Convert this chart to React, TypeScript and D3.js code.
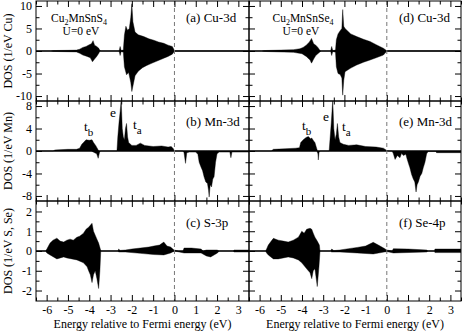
import * as d3 from "d3";
import React, { useEffect, useRef } from "react";

type Pt = [number, number];

// [energy (eV), DOS] pairs; spin up positive, spin down negative
// (a) Cu-3d, Cu2MnSnS4
const cuUpS: Pt[] = [[-6.5, 0], [-5.8, 0], [-5.7, 0.1], [-5.0, 0.15], [-4.6, 0.2], [-4.45, 0.4], [-4.3, 0.8], [-4.15, 1.0], [-4.0, 1.4], [-3.9, 1.6], [-3.82, 2.3], [-3.75, 1.3], [-3.65, 1.0], [-3.55, 0.6], [-3.5, 0.1], [-3.45, 0], [-2.6, 0], [-2.55, 1.0], [-2.5, 0.1], [-2.4, 0.2], [-2.35, 3.5], [-2.28, 5.5], [-2.2, 4.6], [-2.12, 5.0], [-2.05, 7.5], [-2.0, 10.5], [-1.95, 6.5], [-1.85, 4.2], [-1.7, 3.6], [-1.44, 3.2], [-1.2, 2.7], [-0.97, 2.4], [-0.75, 2.0], [-0.5, 1.7], [-0.3, 1.3], [-0.1, 1.0], [-0.03, 0.4], [0, 0.05], [3.5, 0.05]];
const cuDnS: Pt[] = [[-6.5, 0], [-5.8, 0], [-5.7, -0.1], [-4.6, -0.2], [-4.45, -0.5], [-4.3, -0.9], [-4.1, -1.2], [-3.95, -1.5], [-3.85, -2.4], [-3.75, -1.8], [-3.65, -1.2], [-3.55, -0.5], [-3.5, 0], [-2.6, 0], [-2.55, -1.0], [-2.5, -0.1], [-2.4, -0.3], [-2.35, -3.5], [-2.25, -5.3], [-2.15, -4.8], [-2.05, -7.0], [-2.0, -9.0], [-1.95, -7.8], [-1.85, -5.5], [-1.7, -4.5], [-1.5, -3.7], [-1.3, -3.2], [-1.1, -2.8], [-0.9, -2.4], [-0.7, -2.0], [-0.5, -1.6], [-0.3, -1.2], [-0.1, -0.7], [0, -0.05], [3.5, -0.05]];
// (d) Cu-3d, Cu2MnSnSe4
const cuUpSe: Pt[] = [[-6.5, 0], [-5.9, 0], [-5.8, 0.1], [-5.0, 0.2], [-4.4, 0.3], [-4.1, 0.5], [-3.95, 0.8], [-3.8, 1.3], [-3.65, 2.0], [-3.55, 2.8], [-3.45, 1.6], [-3.35, 1.3], [-3.25, 0.8], [-3.15, 0.1], [-3.1, 0], [-2.65, 0], [-2.6, 1.0], [-2.55, 0.1], [-2.42, 0.2], [-2.38, 2.5], [-2.3, 3.8], [-2.2, 4.5], [-2.12, 5.0], [-2.08, 9.2], [-2.03, 5.5], [-1.97, 5.0], [-1.7, 3.8], [-1.42, 3.2], [-1.1, 2.6], [-0.79, 2.1], [-0.5, 1.4], [-0.16, 0.6], [0, 0.05], [3.5, 0.05]];
const cuDnSe: Pt[] = [[-6.5, 0], [-5.9, 0], [-5.8, -0.1], [-4.4, -0.3], [-4.0, -0.6], [-3.8, -1.2], [-3.62, -2.0], [-3.55, -2.7], [-3.45, -1.8], [-3.35, -1.0], [-3.2, -0.4], [-3.1, 0], [-2.65, 0], [-2.6, -1.0], [-2.55, -0.1], [-2.42, -0.3], [-2.38, -3.5], [-2.3, -5.0], [-2.2, -5.2], [-2.12, -6.0], [-2.08, -9.8], [-2.03, -6.5], [-1.97, -4.6], [-1.7, -3.8], [-1.42, -3.1], [-1.1, -2.5], [-0.79, -2.0], [-0.5, -1.5], [-0.16, -0.9], [0, -0.05], [3.5, -0.05]];

// (b) Mn-3d, Cu2MnSnS4
const mnUpS: Pt[] = [[-6.5, 0], [-5.7, 0], [-5.6, 0.2], [-5.0, 0.3], [-4.6, 0.3], [-4.45, 0.5], [-4.35, 1.2], [-4.27, 1.5], [-4.15, 2.0], [-4.0, 1.9], [-3.87, 2.0], [-3.8, 1.5], [-3.7, 1.0], [-3.64, 0.6], [-3.58, 0.2], [-3.55, 0], [-2.7, 0], [-2.66, 2.5], [-2.6, 5.2], [-2.55, 7.0], [-2.5, 9.1], [-2.45, 4.0], [-2.4, 2.5], [-2.35, 2.0], [-2.3, 4.0], [-2.25, 4.9], [-2.2, 2.5], [-2.15, 1.5], [-2.0, 1.0], [-1.8, 1.0], [-1.6, 1.4], [-1.4, 1.0], [-1.0, 0.8], [-0.6, 0.9], [-0.3, 0.7], [-0.15, 0.8], [-0.05, 0.4], [0, 0], [3.5, 0]];
const mnDnS: Pt[] = [[-6.5, 0], [-3.9, 0], [-3.75, -0.3], [-3.65, -0.5], [-3.58, -1.3], [-3.52, -0.3], [-3.48, 0], [0.4, 0], [0.45, -0.3], [0.52, -2.2], [0.58, -0.3], [0.7, -0.2], [1.0, -0.2], [1.1, -0.6], [1.16, -2.0], [1.24, -2.8], [1.32, -3.5], [1.39, -4.6], [1.47, -5.5], [1.55, -5.8], [1.6, -7.0], [1.63, -8.2], [1.68, -6.0], [1.74, -6.4], [1.8, -5.0], [1.86, -4.6], [1.93, -2.0], [2.0, -0.5], [2.1, -0.2], [2.6, -0.2], [2.65, -1.2], [2.7, -0.2], [3.5, -0.2]];
// (e) Mn-3d, Cu2MnSnSe4
const mnUpSe: Pt[] = [[-6.5, 0], [-5.45, 0], [-5.35, 0.3], [-4.8, 0.4], [-4.3, 0.5], [-4.12, 0.6], [-4.06, 1.5], [-3.94, 2.0], [-3.81, 2.4], [-3.7, 2.6], [-3.6, 2.2], [-3.54, 2.3], [-3.45, 1.8], [-3.39, 1.5], [-3.31, 0.5], [-3.27, 0], [-2.72, 0], [-2.68, 2.0], [-2.62, 5.0], [-2.55, 9.1], [-2.5, 4.0], [-2.44, 2.0], [-2.38, 3.0], [-2.33, 4.9], [-2.27, 2.5], [-2.21, 1.5], [-2.05, 1.2], [-1.8, 1.0], [-1.42, 1.1], [-1.0, 0.8], [-0.5, 0.7], [-0.16, 0.5], [0, 0.1], [0.1, 0], [3.5, 0]];
const mnDnSe: Pt[] = [[-6.5, 0], [-3.3, 0], [-3.25, -0.5], [-3.23, -1.6], [-3.2, -0.3], [-3.15, 0], [0.25, 0], [0.31, -0.5], [0.39, -1.5], [0.5, -0.8], [0.62, -1.2], [0.7, -0.4], [0.78, -0.8], [0.9, -0.6], [0.94, -1.2], [1.02, -2.2], [1.09, -3.0], [1.17, -4.2], [1.25, -5.0], [1.32, -5.5], [1.38, -7.3], [1.43, -6.0], [1.49, -5.5], [1.57, -4.5], [1.65, -4.0], [1.72, -3.0], [1.8, -2.0], [1.88, -0.5], [1.95, -0.1], [2.3, -0.1], [2.35, -0.3], [3.5, -0.3]];

// (c) S-3p
const sUp: Pt[] = [[-6.5, 0], [-6.05, 0], [-5.99, 0.1], [-5.84, 0.4], [-5.7, 0.55], [-5.52, 0.65], [-5.37, 0.5], [-5.2, 0.45], [-5.05, 0.55], [-4.9, 0.6], [-4.75, 0.55], [-4.58, 0.7], [-4.45, 0.75], [-4.27, 0.9], [-4.15, 1.1], [-4.03, 1.2], [-3.95, 1.3], [-3.87, 1.4], [-3.8, 1.0], [-3.72, 0.8], [-3.64, 0.6], [-3.56, 0.4], [-3.48, 0.1], [-3.45, 0], [-2.65, 0], [-2.62, 0.1], [-2.55, 0.03], [-2.3, 0.05], [-2.0, 0.1], [-1.6, 0.15], [-1.2, 0.2], [-0.97, 0.25], [-0.7, 0.3], [-0.5, 0.45], [-0.35, 0.25], [-0.18, 0.2], [-0.02, 0.05], [0.2, 0], [0.4, 0], [0.45, 0.15], [0.8, 0.15], [1.25, 0.1], [1.35, 0], [1.5, 0.05], [2.0, 0.05], [2.1, 0], [2.75, 0], [2.8, 0.05], [3.5, 0.05]];
const sDn: Pt[] = [[-6.5, 0], [-6.05, 0], [-5.99, -0.1], [-5.84, -0.2], [-5.52, -0.4], [-5.2, -0.3], [-5.05, -0.35], [-4.58, -0.45], [-4.27, -0.6], [-4.1, -0.8], [-4.03, -1.0], [-3.95, -1.2], [-3.87, -1.6], [-3.8, -1.2], [-3.72, -1.0], [-3.64, -1.4], [-3.56, -1.9], [-3.5, -1.0], [-3.46, 0], [-2.65, 0], [-2.62, -0.05], [-2.3, -0.05], [-1.6, -0.12], [-0.97, -0.18], [-0.5, -0.2], [-0.18, -0.1], [0, 0], [0.45, -0.1], [1.25, -0.1], [1.5, -0.25], [1.7, -0.3], [2.02, -0.1], [2.1, 0], [2.75, 0], [2.8, -0.05], [3.5, -0.05]];
// (f) Se-4p
const seUp: Pt[] = [[-6.5, 0], [-5.72, 0], [-5.67, 0.1], [-5.59, 0.3], [-5.45, 0.5], [-5.35, 0.64], [-5.12, 0.55], [-4.88, 0.5], [-4.65, 0.45], [-4.41, 0.55], [-4.17, 0.7], [-4.01, 1.0], [-3.9, 0.9], [-3.78, 1.1], [-3.62, 1.15], [-3.54, 1.1], [-3.47, 0.9], [-3.39, 0.7], [-3.28, 0.5], [-3.18, 0.3], [-3.15, 0], [-2.65, 0], [-2.6, 0.1], [-2.5, 0.02], [-2.21, 0.05], [-1.8, 0.12], [-1.4, 0.18], [-1.0, 0.25], [-0.64, 0.44], [-0.4, 0.3], [-0.15, 0.15], [0, 0.05], [0.25, 0], [0.31, 0.12], [1.0, 0.1], [1.88, 0.05], [1.95, 0], [2.25, 0], [2.27, 0.1], [3.5, 0.1]];
const seDn: Pt[] = [[-6.5, 0], [-5.72, 0], [-5.67, -0.1], [-5.59, -0.2], [-5.35, -0.4], [-5.12, -0.4], [-4.65, -0.3], [-4.41, -0.35], [-4.17, -0.45], [-4.01, -0.6], [-3.78, -0.9], [-3.62, -1.1], [-3.54, -1.4], [-3.47, -1.0], [-3.39, -0.9], [-3.28, -1.8], [-3.2, -0.8], [-3.15, 0], [-2.65, 0], [-2.6, -0.05], [-2.21, -0.05], [-1.4, -0.1], [-0.64, -0.15], [0, -0.03], [0.31, -0.1], [1.88, -0.05], [1.95, 0], [2.25, 0], [2.27, -0.08], [3.5, -0.08]];

const xTicks = [-6, -5, -4, -3, -2, -1, 0, 1, 2, 3];
const cuTicks = [-10, -5, 0, 5, 10];
const mnTicks = [-8, -4, 0, 4, 8];
const pTicks = [-2, -1, 0, 1, 2];
const labelsS = ["(a) Cu-3d", "(b) Mn-3d", "(c) S-3p"];
const labelsSe = ["(d) Cu-3d", "(e) Mn-3d", "(f) Se-4p"];
const yTitles = ["DOS (1/eV Cu)", "DOS (1/eV Mn)", "DOS (1/eV S, Se)"];
const xTitle = "Energy relative to Fermi energy (eV)";

const FONT = "'Liberation Serif', 'Times New Roman', serif";

export default function App() {
  const ref = useRef<SVGSVGElement>(null);

  useEffect(() => {
    const svg = d3.select(ref.current);
    svg.selectAll("*").remove();

    const rows = [
      { top: 1, bottom: 101, domain: [-11.1, 11.1], ticks: cuTicks, minor: [-7.5, -2.5, 2.5, 7.5] },
      { top: 101, bottom: 201, domain: [-8.9, 8.9], ticks: mnTicks, minor: [-6, -2, 2, 6] },
      { top: 201, bottom: 301, domain: [-2.53, 2.53], ticks: pTicks, minor: [-1.5, -0.5, 0.5, 1.5] },
    ];
    const cols = [
      { left: 36, right: 249, data: [[cuUpS, cuDnS], [mnUpS, mnDnS], [sUp, sDn]], labels: labelsS },
      { left: 249, right: 461, data: [[cuUpSe, cuDnSe], [mnUpSe, mnDnSe], [seUp, seDn]], labels: labelsSe },
    ];
    const xMinor = d3.range(-6.5, 3.6, 0.5).filter((v) => !Number.isInteger(v));
    const fmt = (d: any) => String(d);
    const noLabel = () => "";

    cols.forEach((col, ci) => {
      const x = d3.scaleLinear().domain([-6.5, 3.5]).range([col.left, col.right]);

      rows.forEach((row, ri) => {
        const y = d3.scaleLinear().domain(row.domain).range([row.bottom, row.top]);
        const id = `clip-${ci}-${ri}`;
        svg.append("clipPath").attr("id", id)
          .append("rect")
          .attr("x", col.left).attr("y", row.top)
          .attr("width", col.right - col.left).attr("height", row.bottom - row.top);

        const g = svg.append("g").attr("clip-path", `url(#${id})`);
        const area = d3.area<Pt>().x((d) => x(d[0])).y0(y(0)).y1((d) => y(d[1]));
        col.data[ri].forEach((s) => {
          g.append("path").attr("d", area(s as Pt[])).attr("fill", "#000")
            .attr("stroke", "#000").attr("stroke-width", 0.4);
        });

        // zero line and Fermi level
        g.append("line").attr("x1", col.left).attr("x2", col.right)
          .attr("y1", y(0)).attr("y2", y(0)).attr("stroke", "#000").attr("stroke-width", 1);
        svg.append("line").attr("x1", x(0)).attr("x2", x(0))
          .attr("y1", row.top).attr("y2", row.bottom)
          .attr("stroke", "#777").attr("stroke-width", 1).attr("stroke-dasharray", "4,3");

        // ticks on all four sides, pointing in
        const axes: [any, string][] = [
          [d3.axisBottom(x).tickValues(xTicks).tickSize(-6).tickPadding(4).tickFormat(ri === 2 ? fmt : noLabel), `translate(0,${row.bottom})`],
          [d3.axisBottom(x).tickValues(xMinor).tickSize(-3.5).tickFormat(noLabel), `translate(0,${row.bottom})`],
          [d3.axisTop(x).tickValues(xTicks).tickSize(-6).tickFormat(noLabel), `translate(0,${row.top})`],
          [d3.axisTop(x).tickValues(xMinor).tickSize(-3.5).tickFormat(noLabel), `translate(0,${row.top})`],
          [d3.axisLeft(y).tickValues(row.ticks).tickSize(-6).tickPadding(4).tickFormat(ci === 0 ? fmt : noLabel), `translate(${col.left},0)`],
          [d3.axisLeft(y).tickValues(row.minor).tickSize(-3.5).tickFormat(noLabel), `translate(${col.left},0)`],
          [d3.axisRight(y).tickValues(row.ticks).tickSize(-6).tickFormat(noLabel), `translate(${col.right},0)`],
          [d3.axisRight(y).tickValues(row.minor).tickSize(-3.5).tickFormat(noLabel), `translate(${col.right},0)`],
        ];
        axes.forEach(([ax, tr]) => {
          const a = svg.append("g").attr("transform", tr).call(ax);
          a.select(".domain").remove();
          a.attr("font-family", null).attr("font-size", null);
          a.selectAll("text").style("font-family", FONT).style("font-size", "12px");
        });

        svg.append("rect").attr("x", col.left).attr("y", row.top)
          .attr("width", col.right - col.left).attr("height", row.bottom - row.top)
          .attr("fill", "none").attr("stroke", "#000").attr("stroke-width", 1);

        svg.append("text").attr("x", col.left + 150).attr("y", [22, 126, 227][ri])
          .style("font-family", FONT).style("font-size", "13px").text(col.labels[ri]);

        if (ci === 0) {
          svg.append("text")
            .attr("transform", `translate(11.5,${(row.top + row.bottom) / 2}) rotate(-90)`)
            .attr("text-anchor", "middle").style("font-family", FONT).style("font-size", "12px")
            .text(yTitles[ri]);
        }
      });

      svg.append("text").attr("x", (col.left + col.right) / 2).attr("y", 327.5)
        .attr("text-anchor", "middle").style("font-family", FONT).style("font-size", "12px")
        .text(xTitle);
    });

    // compound names
    const formulas = [
      { cx: 79, ucx: 81, parts: ["Cu", "2", "MnSnS", "4"] },
      { cx: 303, ucx: 301, parts: ["Cu", "2", "MnSnSe", "4"] },
    ];
    formulas.forEach((f) => {
      const t = svg.append("text").attr("x", f.cx).attr("y", 21.5).attr("text-anchor", "middle")
        .style("font-family", FONT).style("font-size", "11.5px");
      f.parts.forEach((p, i) => {
        const sub = i % 2 === 1;
        t.append("tspan").style("font-size", sub ? "8px" : "11.5px")
          .attr("dy", i === 0 ? 0 : sub ? 3 : -3).text(p);
      });
      svg.append("text").attr("x", f.ucx).attr("y", 35).attr("text-anchor", "middle")
        .style("font-family", FONT).style("font-size", "11.5px").text("U=0 eV");
    });

    // orbital annotations in Mn panels
    const notes = [
      { x: 84, y: 131, main: "t", sub: "b" },
      { x: 110, y: 117, main: "e", sub: "" },
      { x: 133, y: 129, main: "t", sub: "a" },
      { x: 302, y: 130, main: "t", sub: "b" },
      { x: 323, y: 121, main: "e", sub: "" },
      { x: 342, y: 131, main: "t", sub: "a" },
    ];
    notes.forEach((n) => {
      const t = svg.append("text").attr("x", n.x).attr("y", n.y)
        .style("font-family", FONT).style("font-size", "13.5px");
      t.append("tspan").text(n.main);
      if (n.sub) t.append("tspan").attr("dy", 5).style("font-size", "11px").text(n.sub);
    });
  }, []);

  return (
    <svg ref={ref} width={463} height={331}
      style={{ position: "absolute", left: 0, top: 0, background: "#fff" }} />
  );
}
